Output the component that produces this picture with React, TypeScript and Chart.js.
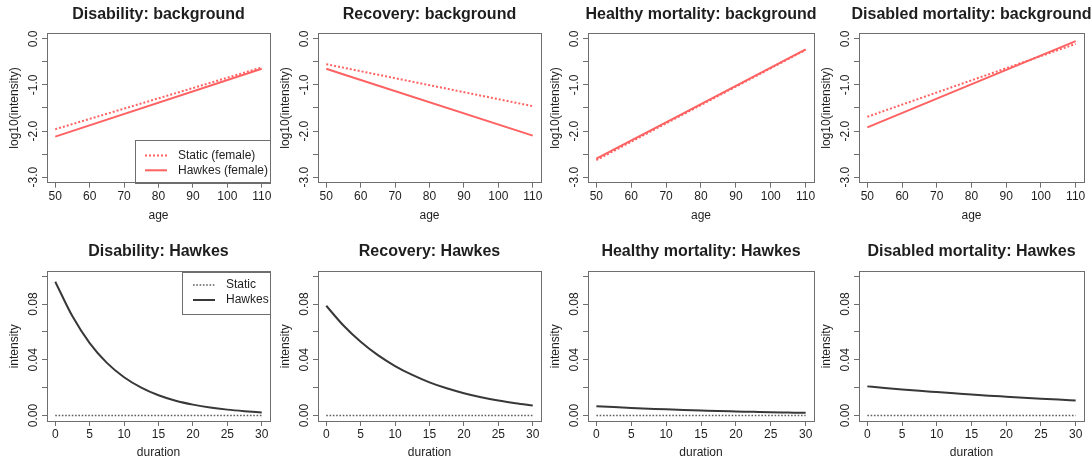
import React, { useEffect, useRef } from "react";
import { Chart, registerables } from "chart.js";

Chart.register(...registerables);

const FONT = "'Liberation Sans', Arial, Helvetica, sans-serif";
Chart.defaults.font.family = FONT;
Chart.defaults.font.size = 12;
Chart.defaults.color = "#1e1e1e";

// ---------- data ----------
const ages = [50, 110];
const disabilityStaticBg = [-1.96, -0.62];
const disabilityHawkesBg = [-2.12, -0.65];
const recoveryStaticBg = [-0.55, -1.46];
const recoveryHawkesBg = [-0.65, -2.1];
const healthyMortStaticBg = [-2.63, -0.24];
const healthyMortHawkesBg = [-2.6, -0.23];
const disabledMortStaticBg = [-1.69, -0.11];
const disabledMortHawkesBg = [-1.92, -0.05];

const durations = [0, 2.5, 5, 7.5, 10, 12.5, 15, 17.5, 20, 22.5, 25, 27.5, 30];
const staticExcitation = [0, 0, 0, 0, 0, 0, 0, 0, 0, 0, 0, 0, 0];
const disabilityHawkes = [0.0961, 0.0712, 0.052, 0.0378, 0.0275, 0.02, 0.0145, 0.0106, 0.0078, 0.0057, 0.0042, 0.0031, 0.0022];
const recoveryHawkes = [0.0788, 0.0646, 0.0529, 0.0433, 0.0355, 0.0291, 0.0238, 0.0195, 0.016, 0.0131, 0.0107, 0.0088, 0.0072];
const healthyMortHawkes = [0.0067, 0.006, 0.0054, 0.0049, 0.0044, 0.004, 0.0036, 0.0032, 0.0029, 0.0026, 0.0023, 0.0021, 0.0019];
const disabledMortHawkes = [0.0209, 0.0198, 0.0187, 0.0177, 0.0168, 0.0159, 0.015, 0.0142, 0.0135, 0.0128, 0.0121, 0.0114, 0.0108];

const ageTicks = [50, 60, 70, 80, 90, 100, 110];
const logTicks = [-3, -2.5, -2, -1.5, -1, -0.5, 0];
const logTickLabels = ["-3.0", "", "-2.0", "", "-1.0", "", "0.0"];
const durationTicks = [0, 5, 10, 15, 20, 25, 30];
const intensityTicks = [0, 0.02, 0.04, 0.06, 0.08, 0.1];
const intensityTickLabels = ["0.00", "", "0.04", "", "0.08", ""];

const topTitles = [
  "Disability: background",
  "Recovery: background",
  "Healthy mortality: background",
  "Disabled mortality: background",
];
const bottomTitles = [
  "Disability: Hawkes",
  "Recovery: Hawkes",
  "Healthy mortality: Hawkes",
  "Disabled mortality: Hawkes",
];
const topLegendLabels = ["Static (female)", "Hawkes (female)"];
const bottomLegendLabels = ["Static", "Hawkes"];

// ---------- styling / layout ----------
const RED = "#ff6262";
const DARK = "#383838";
const DOT_GRAY = "#5e5e5e";
const BOX = "#6e6e6e";
const TEXT = "#1e1e1e";

const colLefts = [47, 318, 588, 859];
const colWidths = [223, 223, 226, 225];
const MARGIN = 47;
const CANVAS_H = 240;

type Spec = {
  row: 0 | 1;
  col: number;
  title: string;
  xs: number[];
  staticY: number[];
  hawkesY: number[];
  legend?: string[];
};

const specs: Spec[] = [
  { row: 0, col: 0, title: topTitles[0], xs: ages, staticY: disabilityStaticBg, hawkesY: disabilityHawkesBg, legend: topLegendLabels },
  { row: 0, col: 1, title: topTitles[1], xs: ages, staticY: recoveryStaticBg, hawkesY: recoveryHawkesBg },
  { row: 0, col: 2, title: topTitles[2], xs: ages, staticY: healthyMortStaticBg, hawkesY: healthyMortHawkesBg },
  { row: 0, col: 3, title: topTitles[3], xs: ages, staticY: disabledMortStaticBg, hawkesY: disabledMortHawkesBg },
  { row: 1, col: 0, title: bottomTitles[0], xs: durations, staticY: staticExcitation, hawkesY: disabilityHawkes, legend: bottomLegendLabels },
  { row: 1, col: 1, title: bottomTitles[1], xs: durations, staticY: staticExcitation, hawkesY: recoveryHawkes },
  { row: 1, col: 2, title: bottomTitles[2], xs: durations, staticY: staticExcitation, hawkesY: healthyMortHawkes },
  { row: 1, col: 3, title: bottomTitles[3], xs: durations, staticY: staticExcitation, hawkesY: disabledMortHawkes },
];

const rLegendPlugin = {
  id: "rlegend",
  afterDraw(chart: any, _args: any, opts: any) {
    if (!opts || !opts.labels) return;
    const { ctx, chartArea } = chart;
    const left = chartArea.right - opts.width;
    const top = opts.corner === "bottomright" ? chartArea.bottom - opts.height : chartArea.top;
    ctx.save();
    ctx.strokeStyle = BOX;
    ctx.lineWidth = 1;
    ctx.strokeRect(Math.round(left) + 0.5, Math.round(top) + 0.5, Math.round(opts.width), Math.round(opts.height));
    opts.labels.forEach((label: string, i: number) => {
      const ds = chart.data.datasets[i];
      const y = top + opts.rows[i];
      ctx.beginPath();
      ctx.strokeStyle = ds.borderColor;
      ctx.lineWidth = ds.borderWidth;
      ctx.setLineDash(ds.borderDash || []);
      ctx.moveTo(left + opts.sampleX, y);
      ctx.lineTo(left + opts.sampleX + 22, y);
      ctx.stroke();
      ctx.setLineDash([]);
      ctx.fillStyle = TEXT;
      ctx.font = `12px ${FONT}`;
      ctx.textAlign = "left";
      ctx.textBaseline = "middle";
      ctx.fillText(label, left + opts.sampleX + 33, y);
    });
    ctx.restore();
  },
};

function makeConfig(spec: Spec): any {
  const isTop = spec.row === 0;
  const xTicks = isTop ? ageTicks : durationTicks;
  const yTicks = isTop ? logTicks : intensityTicks;
  const yLabels = isTop ? logTickLabels : intensityTickLabels;
  const xMin = isTop ? 47.6 : -1.2;
  const xMax = isTop ? 112.4 : 31.2;
  const yMin = isTop ? -3.12 : -0.00397;
  const yMax = isTop ? 0.12 : 0.10327;
  const xAxisH = isTop ? CANVAS_H - 182.7 : CANVAS_H - 191;

  const staticColor = isTop ? RED : DOT_GRAY;
  const hawkesColor = isTop ? RED : DARK;

  const datasets = [
    {
      label: "Static",
      data: spec.xs.map((x, i) => ({ x, y: spec.staticY[i] })),
      borderColor: staticColor,
      borderWidth: isTop ? 2 : 1.6,
      borderDash: isTop ? [2, 2] : [1.6, 1.7],
      pointRadius: 0,
      fill: false,
    },
    {
      label: "Hawkes",
      data: spec.xs.map((x, i) => ({ x, y: spec.hawkesY[i] })),
      borderColor: hawkesColor,
      borderWidth: 2,
      pointRadius: 0,
      fill: false,
      cubicInterpolationMode: "monotone",
    },
  ];

  const legendOpts = spec.legend
    ? isTop
      ? { labels: spec.legend, corner: "bottomright", width: 135, height: 42.7, sampleX: 10, rows: [15.5, 30.3] }
      : { labels: spec.legend, corner: "topright", width: 87.7, height: 41.6, sampleX: 10.7, rows: [13.3, 28.3] }
    : false;

  return {
    type: "line",
    data: { datasets },
    plugins: [rLegendPlugin],
    options: {
      animation: false,
      responsive: false,
      devicePixelRatio: 1,
      layout: { padding: 0 },
      plugins: {
        legend: { display: false },
        tooltip: { enabled: false },
        title: {
          display: true,
          text: spec.title,
          color: TEXT,
          font: { size: 16, weight: "bold", family: FONT },
          padding: isTop ? { top: 4.9, bottom: 9.2 } : { top: 12.2, bottom: 10.3 },
        },
        rlegend: legendOpts,
      },
      scales: {
        x: {
          type: "linear",
          position: "bottom",
          min: xMin,
          max: xMax,
          afterBuildTicks: (s: any) => {
            s.ticks = xTicks.map((v) => ({ value: v }));
          },
          afterFit: (s: any) => {
            s.height = xAxisH;
          },
          ticks: {
            autoSkip: false,
            maxRotation: 0,
            minRotation: 0,
            padding: isTop ? 2 : 1,
            color: TEXT,
            font: { size: 12 },
            callback: (_v: any, i: number) => String(xTicks[i]),
          },
          grid: { display: true, drawOnChartArea: false, drawTicks: true, tickLength: 5, color: BOX, lineWidth: 1 },
          border: { display: true, color: BOX, width: 1 },
          title: {
            display: true,
            text: isTop ? "age" : "duration",
            color: TEXT,
            font: { size: 12 },
            padding: { top: 0, bottom: isTop ? 16.8 : 10.1 },
          },
        },
        y: {
          type: "linear",
          position: "left",
          min: yMin,
          max: yMax,
          afterBuildTicks: (s: any) => {
            s.ticks = yTicks.map((v) => ({ value: v }));
          },
          afterFit: (s: any) => {
            s.width = MARGIN;
          },
          ticks: {
            autoSkip: false,
            minRotation: 90,
            maxRotation: 90,
            crossAlign: "center",
            padding: isTop ? -1.6 : -3,
            color: TEXT,
            font: { size: 12 },
            callback: (_v: any, i: number) => yLabels[i],
          },
          grid: { display: true, drawOnChartArea: false, drawTicks: true, tickLength: 5, color: BOX, lineWidth: 1 },
          border: { display: true, color: BOX, width: 1 },
          title: {
            display: true,
            text: isTop ? "log10(intensity)" : "intensity",
            color: TEXT,
            font: { size: 12 },
            padding: { top: 7, bottom: 0 },
          },
        },
        xTop: {
          type: "linear",
          position: "top",
          min: xMin,
          max: xMax,
          afterFit: (s: any) => {
            s.height = 0;
          },
          ticks: { display: false },
          grid: { display: false },
          border: { display: true, color: BOX, width: 1 },
        },
        yRight: {
          type: "linear",
          position: "right",
          min: yMin,
          max: yMax,
          afterFit: (s: any) => {
            s.width = MARGIN;
          },
          ticks: { display: false },
          grid: { display: false },
          border: { display: true, color: BOX, width: 1 },
        },
      },
    },
  };
}

function Panel({ spec }: { spec: Spec }) {
  const ref = useRef<HTMLCanvasElement | null>(null);
  const boxW = colWidths[spec.col];
  const W = MARGIN + boxW + MARGIN;
  const left = colLefts[spec.col] - MARGIN;
  const top = spec.row === 0 ? 0 : 230;
  useEffect(() => {
    if (!ref.current) return;
    const chart = new Chart(ref.current, makeConfig(spec));
    return () => chart.destroy();
  }, [spec]);
  return (
    <canvas
      ref={ref}
      width={W}
      height={CANVAS_H}
      style={{ position: "absolute", left, top, width: W, height: CANVAS_H }}
    />
  );
}

export default function App() {
  return (
    <div
      style={{
        position: "absolute",
        left: 0,
        top: 0,
        width: 1091,
        height: 459,
        overflow: "hidden",
        background: "#ffffff",
      }}
    >
      {specs.map((s, i) => (
        <Panel key={i} spec={s} />
      ))}
    </div>
  );
}
